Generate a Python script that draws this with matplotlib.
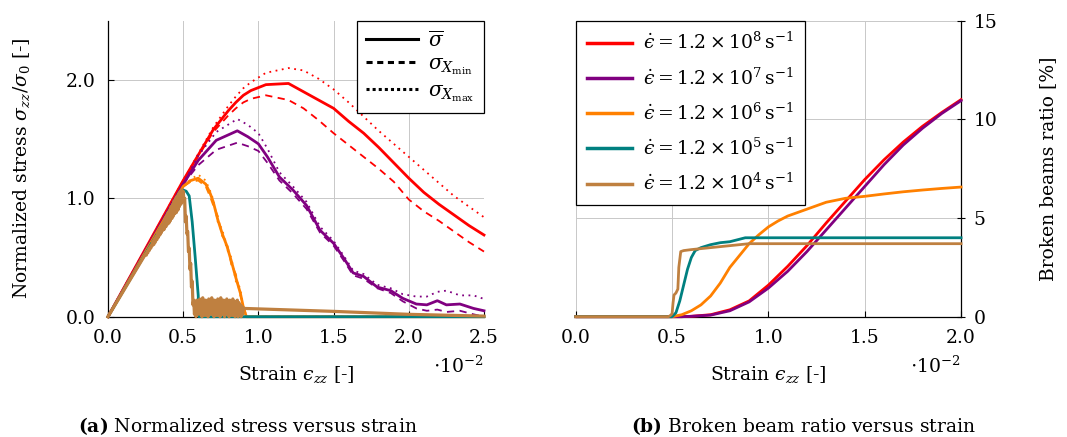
import numpy as np
import matplotlib
matplotlib.use("Agg")
import matplotlib.pyplot as plt
from matplotlib.lines import Line2D
from matplotlib.ticker import FormatStrFormatter

plt.rcParams['font.family'] = ['DejaVu Serif']
plt.rcParams['mathtext.fontset'] = 'dejavuserif'
plt.rcParams['font.size'] = 13.5

# strain in units of 1e-2
RED, PURPLE, ORANGE = '#ff0000', '#800080', '#ff8000'
TEAL, BROWN = '#008080', '#bf8040'
EPS = '\u03f5'  # lunate epsilon

# --- (a) normalized stress, 1.2e8 s^-1
red_x = [0, 0.5, 0.7, 0.8, 0.85, 0.9, 0.95, 1.05, 1.2, 1.3, 1.4, 1.5, 1.6, 1.7,
         1.8, 1.9, 2.0, 2.1, 2.2, 2.3, 2.4, 2.5]
red_mean = [0, 1.15, 1.58, 1.74, 1.81, 1.87, 1.91, 1.96, 1.97, 1.9, 1.83, 1.76,
            1.65, 1.55, 1.43, 1.30, 1.17, 1.05, 0.95, 0.86, 0.77, 0.69]
red_min = [0, 1.15, 1.56, 1.70, 1.76, 1.81, 1.84, 1.87, 1.83, 1.76, 1.66, 1.55,
           1.45, 1.35, 1.25, 1.14, 0.99, 0.89, 0.81, 0.72, 0.63, 0.55]
red_max = [0, 1.15, 1.60, 1.78, 1.86, 1.93, 1.98, 2.06, 2.10, 2.08, 2.01, 1.92,
           1.81, 1.69, 1.57, 1.46, 1.35, 1.24, 1.13, 1.02, 0.93, 0.84]

# 1.2e7 s^-1
pur_x = [0, 0.5, 0.6, 0.72, 0.86, 0.93, 1.0, 1.06, 1.14, 1.23, 1.32, 1.41, 1.5,
         1.57, 1.63, 1.7, 1.79, 1.88, 1.96, 2.05, 2.12, 2.19, 2.25, 2.34, 2.43, 2.5]
pur_mean = [0, 1.12, 1.32, 1.49, 1.57, 1.52, 1.46, 1.35, 1.18, 1.07, 0.94, 0.73,
            0.62, 0.49, 0.37, 0.34, 0.25, 0.22, 0.155, 0.107, 0.10, 0.135, 0.10,
            0.107, 0.07, 0.05]
pur_min = [0, 1.12, 1.28, 1.41, 1.47, 1.44, 1.40, 1.30, 1.15, 1.04, 0.91, 0.71,
           0.60, 0.47, 0.35, 0.32, 0.24, 0.20, 0.13, 0.07, 0.05, 0.06, 0.04,
           0.05, 0.02, 0.0]
pur_max = [0, 1.12, 1.36, 1.56, 1.67, 1.62, 1.55, 1.42, 1.22, 1.10, 0.97, 0.76,
           0.64, 0.51, 0.39, 0.36, 0.27, 0.24, 0.19, 0.17, 0.17, 0.21, 0.22,
           0.18, 0.18, 0.15]

# 1.2e6 s^-1
ora_x = [0, 0.5, 0.55, 0.6, 0.65, 0.68, 0.7, 0.73, 0.76, 0.79, 0.82, 0.85, 0.88,
         0.9, 0.92, 2.5]
ora_mean = [0, 1.1, 1.15, 1.17, 1.12, 1.04, 0.97, 0.82, 0.70, 0.60, 0.47, 0.33,
            0.20, 0.08, 0.0, 0.0]
ora_min = [0, 1.1, 1.14, 1.15, 1.10, 1.01, 0.94, 0.85, 0.68, 0.63, 0.44, 0.36,
           0.18, 0.10, 0.0, 0.0]
ora_max = [0, 1.1, 1.16, 1.20, 1.15, 1.06, 0.99, 0.80, 0.74, 0.57, 0.50, 0.30,
           0.24, 0.06, 0.0, 0.0]

# 1.2e5 s^-1
teal_x = [0, 0.5, 0.52, 0.54, 0.56, 0.58, 0.6, 0.605, 2.5]
teal_stress = [0, 1.07, 1.06, 1.02, 0.8, 0.5, 0.18, 0.0, 0.0]

# 1.2e4 s^-1, noisy signal sampled every 0.005 from 0.25 to 0.9
brown_x0 = [0.0]
brown_y0 = [0.0]
brown_noisy = [
    0.53, 0.52, 0.55, 0.54, 0.57, 0.56, 0.59, 0.58, 0.61, 0.60,
    0.64, 0.61, 0.66, 0.63, 0.68, 0.65, 0.71, 0.67, 0.73, 0.69,
    0.76, 0.71, 0.78, 0.73, 0.80, 0.74, 0.83, 0.76, 0.85, 0.78,
    0.88, 0.79, 0.90, 0.81, 0.93, 0.83, 0.95, 0.85, 0.98, 0.87,
    1.00, 0.88, 1.02, 0.90, 1.04, 0.93, 1.06, 0.95, 1.07, 0.97,
    1.06, 0.98, 1.00, 0.80, 0.85, 0.70, 0.72, 0.55, 0.58, 0.40,
    0.45, 0.25, 0.30, 0.10, 0.14, 0.02, 0.12, 0.00, 0.14, 0.03,
    0.13, 0.02, 0.15, 0.04, 0.12, 0.00, 0.16, 0.03, 0.11, 0.01,
    0.14, 0.05, 0.12, 0.00, 0.15, 0.03, 0.13, 0.02, 0.16, 0.04,
    0.11, 0.00, 0.14, 0.05, 0.12, 0.01, 0.15, 0.03, 0.13, 0.00,
    0.16, 0.04, 0.12, 0.02, 0.14, 0.00, 0.13, 0.05, 0.15, 0.02,
    0.12, 0.00, 0.14, 0.03, 0.13, 0.01, 0.15, 0.04, 0.11, 0.00,
    0.13, 0.02, 0.14, 0.00, 0.12, 0.03, 0.10, 0.00, 0.09, 0.02,
    0.07,
]
brown_tail_x = [1.5, 2.0, 2.5]
brown_tail_y = [0.045, 0.02, 0.005]

# --- (b) broken beams ratio [%]
br_red_x = [0, 0.55, 0.6, 0.7, 0.8, 0.9, 1.0, 1.1, 1.2, 1.3, 1.4, 1.5, 1.6, 1.7,
            1.8, 1.9, 2.0]
br_red = [0, 0, 0.02, 0.1, 0.35, 0.8, 1.6, 2.55, 3.6, 4.75, 5.85, 6.95, 7.95,
          8.85, 9.65, 10.35, 11.0]
br_pur = [0, 0, 0.02, 0.08, 0.3, 0.75, 1.45, 2.3, 3.3, 4.4, 5.5, 6.6, 7.7, 8.7,
          9.55, 10.3, 10.95]
br_ora_x = [0, 0.5, 0.55, 0.6, 0.65, 0.7, 0.75, 0.8, 0.85, 0.9, 0.95, 1.0, 1.05,
            1.1, 1.2, 1.3, 1.4, 1.5, 1.6, 1.7, 1.8, 1.9, 2.0]
br_ora = [0, 0, 0.1, 0.3, 0.6, 1.05, 1.7, 2.5, 3.1, 3.7, 4.15, 4.55, 4.85, 5.1,
          5.45, 5.8, 6.0, 6.1, 6.22, 6.33, 6.42, 6.5, 6.57]
br_teal_x = [0, 0.5, 0.52, 0.54, 0.56, 0.58, 0.6, 0.62, 0.65, 0.7, 0.75, 0.8,
             0.88, 2.0]
br_teal = [0, 0, 0.2, 0.8, 1.6, 2.4, 3.0, 3.35, 3.5, 3.65, 3.75, 3.8, 4.0, 4.0]
br_brown_x = [0, 0.48, 0.49, 0.5, 0.505, 0.51, 0.52, 0.53, 0.535, 0.545, 0.56,
              0.6, 0.7, 0.8, 0.9, 2.0]
br_brown = [0, 0, 0.05, 0.15, 0.7, 1.1, 1.2, 1.4, 2.5, 3.3, 3.35, 3.4, 3.5, 3.6,
            3.7, 3.7]

rate_labels = [r'$\dot{%s} = 1.2\times10^{%d}\,\mathrm{s}^{-1}$' % (EPS, e)
               for e in (8, 7, 6, 5, 4)]
strain_label = r'Strain $%s_{zz}$ [-]' % EPS

brown_x = list(np.round(0.25 + 0.005 * np.arange(len(brown_noisy)), 3))
brown_all_x = brown_x0 + brown_x + brown_tail_x
brown_all_y = brown_y0 + brown_noisy + brown_tail_y

fig = plt.figure(figsize=(10.67, 4.37), dpi=100)
ax1 = fig.add_axes([0.1012, 0.2753, 0.3524, 0.6773])
ax2 = fig.add_axes([0.5396, 0.2753, 0.3611, 0.6773])

LW = 2.0
LW2 = 1.3
kw = dict(clip_on=False, zorder=3)

# (a)
for x, m, lo, hi, c in [(red_x, red_mean, red_min, red_max, RED),
                        (pur_x, pur_mean, pur_min, pur_max, PURPLE),
                        (ora_x, ora_mean, ora_min, ora_max, ORANGE)]:
    ax1.plot(x, lo, color=c, lw=LW2, ls=(0, (4, 3)), **kw)
    ax1.plot(x, hi, color=c, lw=LW2, ls=(0, (1, 2.5)), **kw)
    ax1.plot(x, m, color=c, lw=LW, **kw)
ax1.plot(teal_x, teal_stress, color=TEAL, lw=LW, **kw)
ax1.plot(brown_all_x, brown_all_y, color=BROWN, lw=2.3, **kw)

ax1.set_xlim(0, 2.5)
ax1.set_ylim(0, 2.5)
ax1.set_xticks([0, 0.5, 1.0, 1.5, 2.0, 2.5])
ax1.set_yticks([0, 1.0, 2.0])
ax1.xaxis.set_major_formatter(FormatStrFormatter('%.1f'))
ax1.yaxis.set_major_formatter(FormatStrFormatter('%.1f'))
ax1.spines[['top', 'right']].set_visible(False)
ax1.set_xlabel(strain_label, labelpad=12)
ax1.set_ylabel(r'Normalized stress $\sigma_{zz}/\sigma_0$ [-]', labelpad=24)
ax1.text(1.0, -0.13, r'$\cdot10^{-2}$', transform=ax1.transAxes,
         ha='right', va='top')

style_handles = [Line2D([], [], color='black', lw=2.2),
                 Line2D([], [], color='black', lw=2.2, ls=(0, (2, 1.5))),
                 Line2D([], [], color='black', lw=2.2, ls=(0, (1, 1)))]
style_labels = [r'$\overline{\sigma}$', r'$\sigma_{X_\mathrm{min}}$',
                r'$\sigma_{X_\mathrm{max}}$']
leg1 = ax1.legend(style_handles, style_labels, loc='upper right',
                  bbox_to_anchor=(1.0, 1.0), borderaxespad=0, fancybox=False,
                  edgecolor='black', framealpha=1, handlelength=2.6,
                  handletextpad=0.5, labelspacing=0.2, borderpad=0.45,
                  fontsize=14.5)
leg1.get_frame().set_linewidth(0.9)

# (b)
ax2.plot(br_red_x, br_red, color=RED, lw=LW, **kw)
ax2.plot(br_red_x, br_pur, color=PURPLE, lw=LW, **kw)
ax2.plot(br_ora_x, br_ora, color=ORANGE, lw=LW, **kw)
ax2.plot(br_teal_x, br_teal, color=TEAL, lw=LW, **kw)
ax2.plot(br_brown_x, br_brown, color=BROWN, lw=LW, **kw)

ax2.set_xlim(0, 2.0)
ax2.set_ylim(0, 15)
ax2.set_xticks([0, 0.5, 1.0, 1.5, 2.0])
ax2.set_yticks([0, 5, 10, 15])
ax2.xaxis.set_major_formatter(FormatStrFormatter('%.1f'))
ax2.yaxis.tick_right()
ax2.yaxis.set_label_position('right')
ax2.spines[['top', 'left']].set_visible(False)
ax2.set_xlabel(strain_label, labelpad=12)
ax2.set_ylabel('Broken beams ratio [%]', labelpad=30)
ax2.text(1.0, -0.13, r'$\cdot10^{-2}$', transform=ax2.transAxes,
         ha='right', va='top')

rate_handles = [Line2D([], [], color=c, lw=2.5)
                for c in (RED, PURPLE, ORANGE, TEAL, BROWN)]
leg2 = ax2.legend(rate_handles, rate_labels, loc='upper left',
                  bbox_to_anchor=(0.0, 1.0), borderaxespad=0, fancybox=False,
                  edgecolor='black', framealpha=1, handlelength=2.4,
                  handletextpad=0.6, labelspacing=0.75, borderpad=0.6)
leg2.get_frame().set_linewidth(0.9)

for ax in (ax1, ax2):
    ax.grid(True, color='#c8c8c8', lw=0.7)
    ax.set_axisbelow(True)
    for s in ax.spines.values():
        s.set_linewidth(0.9)
    ax.tick_params(direction='in', length=4, width=0.8, pad=9)
ax2.tick_params(axis='y', direction='inout', length=6, pad=6)

fig.text(0.2325, 0.012, r'$\mathbf{(a)}$ Normalized stress versus strain',
         ha='center', va='baseline')
fig.text(0.7535, 0.012, r'$\mathbf{(b)}$ Broken beam ratio versus strain',
         ha='center', va='baseline')

fig.savefig('out.png', dpi=100)
